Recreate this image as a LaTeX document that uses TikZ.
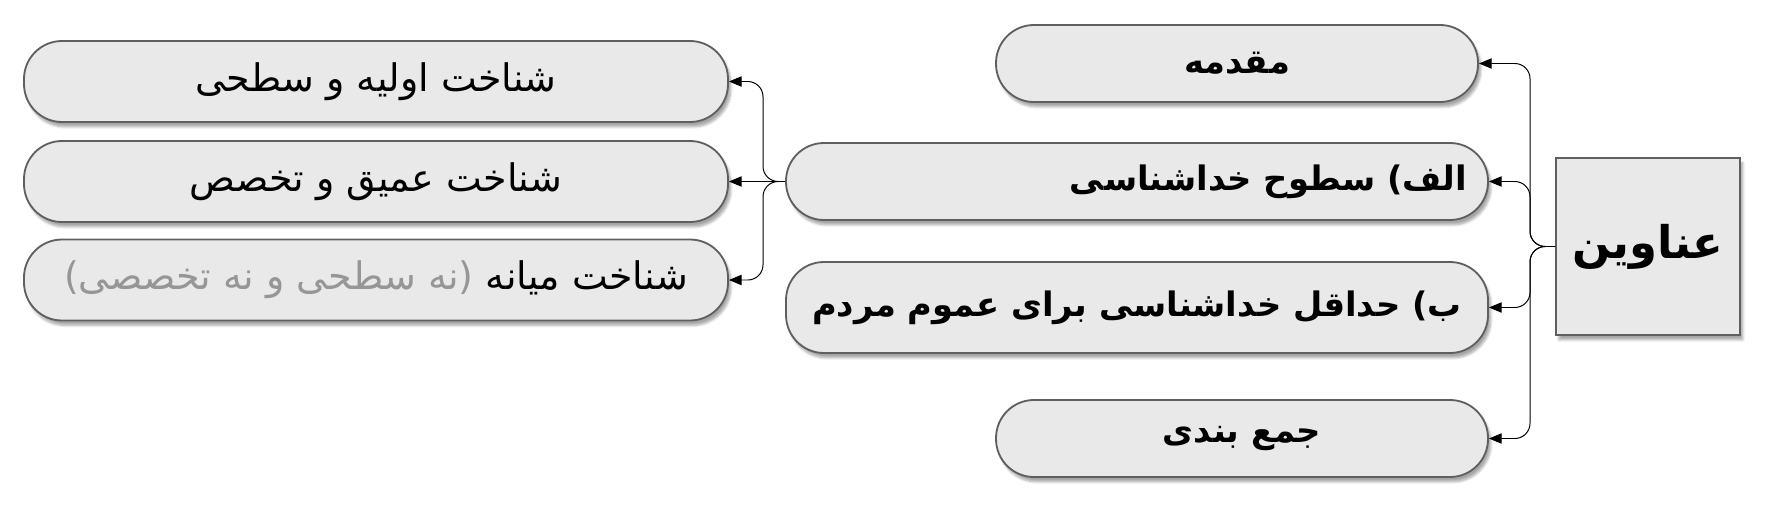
\documentclass[tikz,border=0pt]{standalone}
\usepackage{fontspec}
\usepackage{tikz}
\usetikzlibrary{arrows.meta, positioning, calc, shadows.blur}
\newfontfamily\farsi[Script=Arabic]{DejaVu Sans}
\TeXXeTstate=1
\definecolor{pillgray}{RGB}{233,233,233}
\definecolor{edgegray}{RGB}{95,95,95}
\definecolor{softgray}{RGB}{150,150,150}
\newcommand{\rtltext}[1]{\beginR #1\endR}

\begin{document}
\begin{tikzpicture}[
    pill/.style={draw=edgegray, line width=1.3pt, fill=pillgray, rounded corners=0.95cm,
        minimum height=1.925cm, inner xsep=0.3cm,
        blur shadow={shadow xshift=0.07cm, shadow yshift=-0.12cm, shadow blur steps=6, shadow opacity=35},
        font=\farsi\fontsize{27}{32}\selectfont},
    boldpill/.style={pill, font=\farsi\bfseries\fontsize{24}{29}\selectfont},
    rootbox/.style={draw=edgegray, line width=1.3pt, fill=pillgray, minimum width=4.6cm, minimum height=4.425cm,
        blur shadow={shadow xshift=0.07cm, shadow yshift=-0.12cm, shadow blur steps=6, shadow opacity=35},
        font=\farsi\bfseries\fontsize{32}{38}\selectfont},
    conn/.style={draw=black, line width=0.7pt, rounded corners=0.38cm, -{Triangle[length=0.32cm,width=0.26cm]}}
]
    \useasboundingbox (0,0) rectangle (44.2,12.6);

    % Root
    \node[rootbox] (root) at (41.2,6.4375) {\rtltext{عناوین}};

    % Main titles
    \node[boldpill, minimum width=12.05cm] (intro) at (30.925,11.0125) {\rtltext{مقدمه}};
    \node[boldpill, minimum width=17.55cm] (alef) at (28.425,8.0625) {\makebox[16.5cm][r]{\rtltext{الف) سطوح خداشناسی}}};
    \node[boldpill, minimum width=17.55cm, minimum height=2.275cm] (be) at (28.425,4.9125) {\rtltext{ب) حداقل خداشناسی برای عموم مردم}};
    \node[boldpill, minimum width=12.3cm] (jam) at (31.05,1.6375) {\rtltext{جمع بندی}};

    % Levels of knowledge
    \node[pill, minimum width=17.6cm, minimum height=2.025cm] (first) at (9.4,10.5625) {\rtltext{شناخت اولیه و سطحی}};
    \node[pill, minimum width=17.6cm, minimum height=2.025cm] (deep) at (9.4,8.0625) {\rtltext{شناخت عمیق و تخصص}};
    \node[pill, minimum width=17.6cm, minimum height=2.025cm] (mid) at (9.4,5.6) {{\color{softgray}\rtltext{(نه سطحی و نه تخصصی)}} \rtltext{شناخت میانه}};

    % Connectors
    \coordinate (rjoin) at (38.25,6.4375);
    \foreach \t in {intro,alef,be,jam} {
        \draw[conn] (root.west) -- (rjoin) |- (\t.east);
    }
    \coordinate (ljoin) at (19.075,8.0625);
    \foreach \t in {first,mid} {
        \draw[conn] (alef.west) -- (ljoin) |- (\t.east);
    }
    \draw[conn] (alef.west) -- (deep.east);
\end{tikzpicture}
\end{document}
